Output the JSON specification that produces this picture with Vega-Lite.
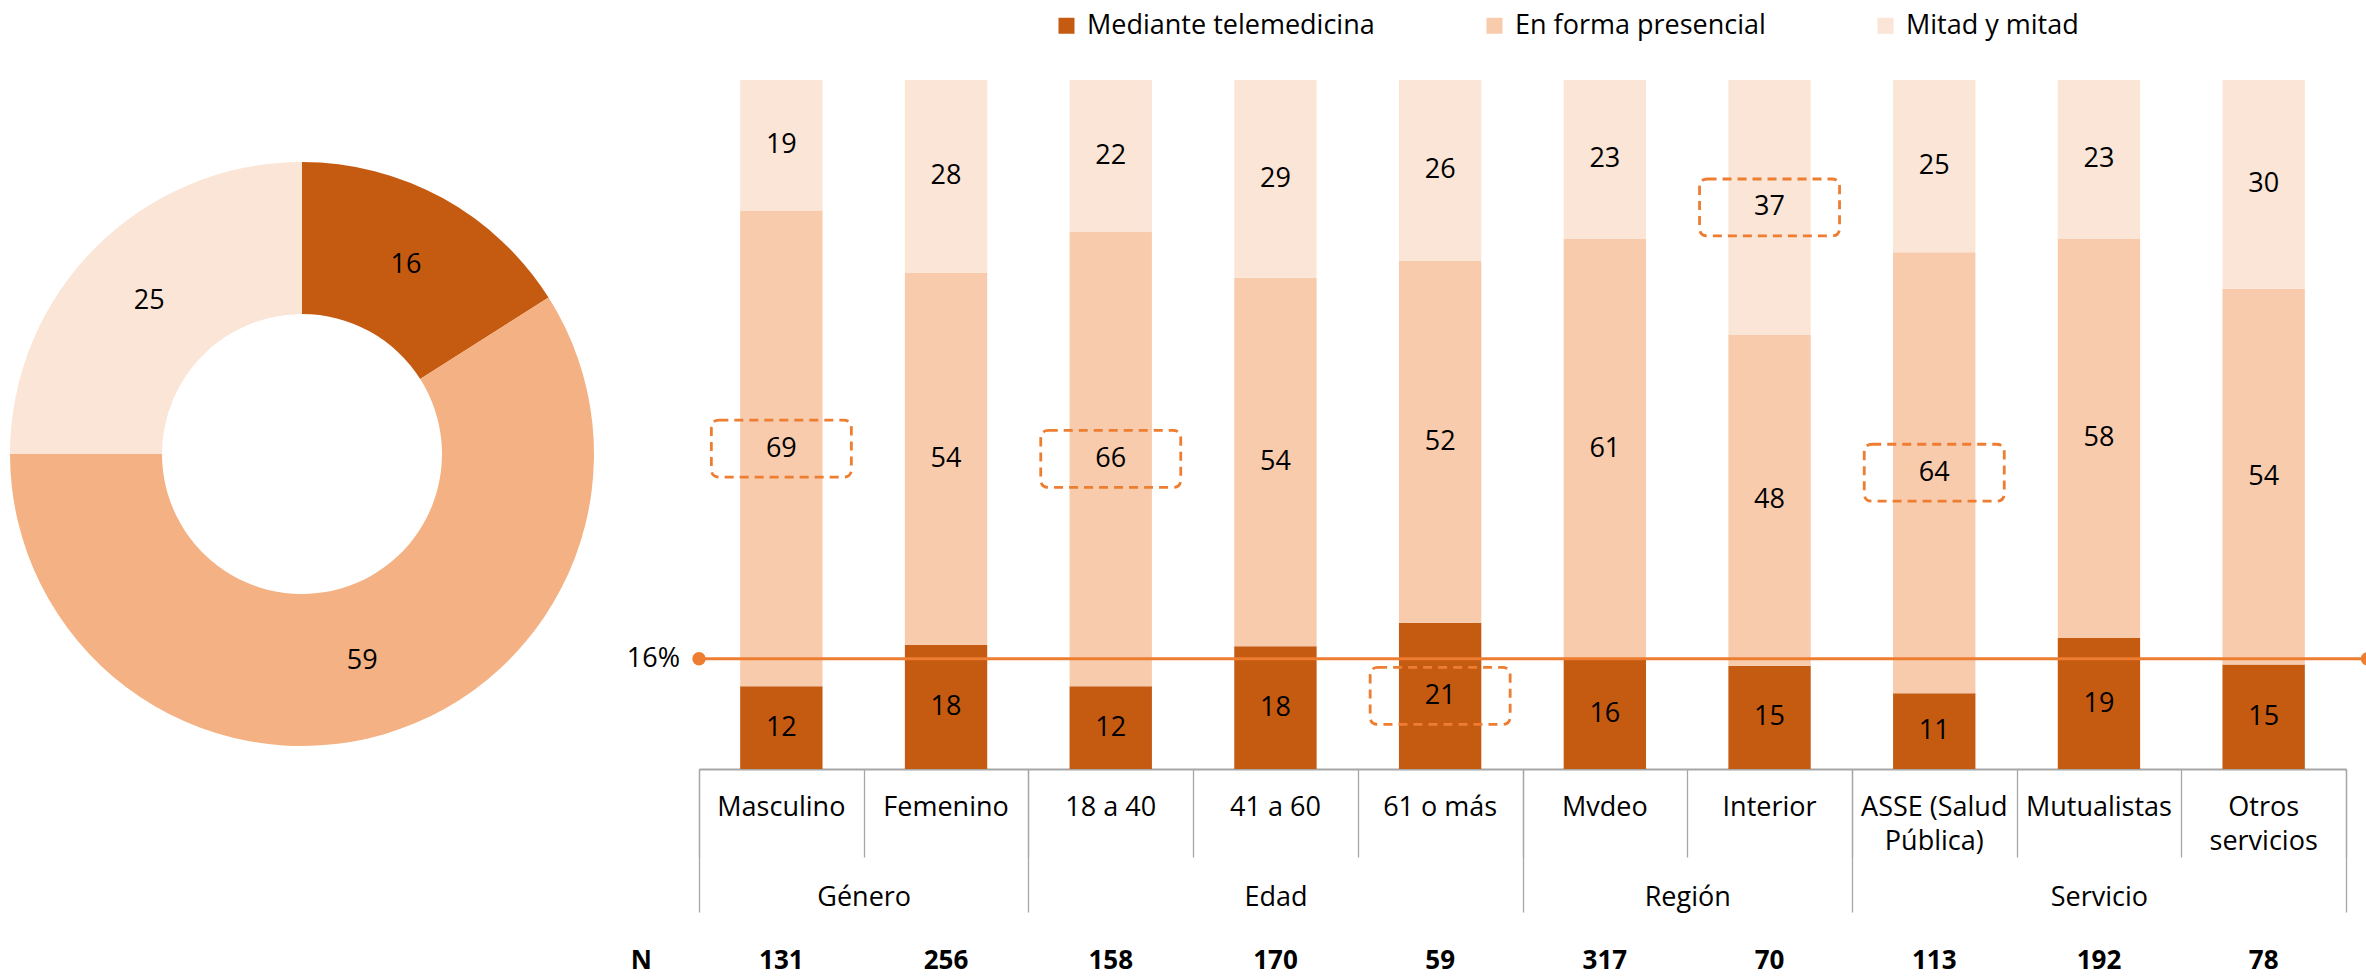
{
  "$schema": "https://vega.github.io/schema/vega-lite/v6.json",
  "background": "white",
  "padding": {"left": 0, "top": 12, "right": 0, "bottom": 6},
  "config": {
    "view": {"stroke": null},
    "font": "Open Sans",
    "text": {"font": "Open Sans"}
  },
  "datasets": {
    "total": [
      {"tipo": "Mediante telemedicina", "orden": 1, "porcentaje": 16},
      {"tipo": "En forma presencial", "orden": 2, "porcentaje": 59},
      {"tipo": "Mitad y mitad", "orden": 3, "porcentaje": 25}
    ],
    "promedio": [
      {"tipo": "Mediante telemedicina", "valor": 0.16, "rotulo": "N"}
    ],
    "barras": [
      {"categoria": "Masculino", "grupo": "Género", "tipo": "Mediante telemedicina", "orden": 1, "porcentaje": 12},
      {"categoria": "Masculino", "grupo": "Género", "tipo": "En forma presencial", "orden": 2, "porcentaje": 69},
      {"categoria": "Masculino", "grupo": "Género", "tipo": "Mitad y mitad", "orden": 3, "porcentaje": 19},
      {"categoria": "Femenino", "grupo": "Género", "tipo": "Mediante telemedicina", "orden": 1, "porcentaje": 18},
      {"categoria": "Femenino", "grupo": "Género", "tipo": "En forma presencial", "orden": 2, "porcentaje": 54},
      {"categoria": "Femenino", "grupo": "Género", "tipo": "Mitad y mitad", "orden": 3, "porcentaje": 28},
      {"categoria": "18 a 40", "grupo": "Edad", "tipo": "Mediante telemedicina", "orden": 1, "porcentaje": 12},
      {"categoria": "18 a 40", "grupo": "Edad", "tipo": "En forma presencial", "orden": 2, "porcentaje": 66},
      {"categoria": "18 a 40", "grupo": "Edad", "tipo": "Mitad y mitad", "orden": 3, "porcentaje": 22},
      {"categoria": "41 a 60", "grupo": "Edad", "tipo": "Mediante telemedicina", "orden": 1, "porcentaje": 18},
      {"categoria": "41 a 60", "grupo": "Edad", "tipo": "En forma presencial", "orden": 2, "porcentaje": 54},
      {"categoria": "41 a 60", "grupo": "Edad", "tipo": "Mitad y mitad", "orden": 3, "porcentaje": 29},
      {"categoria": "61 o más", "grupo": "Edad", "tipo": "Mediante telemedicina", "orden": 1, "porcentaje": 21},
      {"categoria": "61 o más", "grupo": "Edad", "tipo": "En forma presencial", "orden": 2, "porcentaje": 52},
      {"categoria": "61 o más", "grupo": "Edad", "tipo": "Mitad y mitad", "orden": 3, "porcentaje": 26},
      {"categoria": "Mvdeo", "grupo": "Región", "tipo": "Mediante telemedicina", "orden": 1, "porcentaje": 16},
      {"categoria": "Mvdeo", "grupo": "Región", "tipo": "En forma presencial", "orden": 2, "porcentaje": 61},
      {"categoria": "Mvdeo", "grupo": "Región", "tipo": "Mitad y mitad", "orden": 3, "porcentaje": 23},
      {"categoria": "Interior", "grupo": "Región", "tipo": "Mediante telemedicina", "orden": 1, "porcentaje": 15},
      {"categoria": "Interior", "grupo": "Región", "tipo": "En forma presencial", "orden": 2, "porcentaje": 48},
      {"categoria": "Interior", "grupo": "Región", "tipo": "Mitad y mitad", "orden": 3, "porcentaje": 37},
      {"categoria": "ASSE (Salud Pública)", "grupo": "Servicio", "tipo": "Mediante telemedicina", "orden": 1, "porcentaje": 11},
      {"categoria": "ASSE (Salud Pública)", "grupo": "Servicio", "tipo": "En forma presencial", "orden": 2, "porcentaje": 64},
      {"categoria": "ASSE (Salud Pública)", "grupo": "Servicio", "tipo": "Mitad y mitad", "orden": 3, "porcentaje": 25},
      {"categoria": "Mutualistas", "grupo": "Servicio", "tipo": "Mediante telemedicina", "orden": 1, "porcentaje": 19},
      {"categoria": "Mutualistas", "grupo": "Servicio", "tipo": "En forma presencial", "orden": 2, "porcentaje": 58},
      {"categoria": "Mutualistas", "grupo": "Servicio", "tipo": "Mitad y mitad", "orden": 3, "porcentaje": 23},
      {"categoria": "Otros servicios", "grupo": "Servicio", "tipo": "Mediante telemedicina", "orden": 1, "porcentaje": 15},
      {"categoria": "Otros servicios", "grupo": "Servicio", "tipo": "En forma presencial", "orden": 2, "porcentaje": 54},
      {"categoria": "Otros servicios", "grupo": "Servicio", "tipo": "Mitad y mitad", "orden": 3, "porcentaje": 30}
    ],
    "muestras": [
      {"categoria": "Masculino", "n": 131},
      {"categoria": "Femenino", "n": 256},
      {"categoria": "18 a 40", "n": 158},
      {"categoria": "41 a 60", "n": 170},
      {"categoria": "61 o más", "n": 59},
      {"categoria": "Mvdeo", "n": 317},
      {"categoria": "Interior", "n": 70},
      {"categoria": "ASSE (Salud Pública)", "n": 113},
      {"categoria": "Mutualistas", "n": 192},
      {"categoria": "Otros servicios", "n": 78}
    ]
  },
  "bounds": "flush",
  "spacing": 95,
  "resolve": {"scale": {"color": "independent"}, "legend": {"color": "independent"}},
  "hconcat": [
    {
      "width": 604,
      "height": 748,
      "data": {"name": "total"},
      "encoding": {
        "theta": {"field": "porcentaje", "type": "quantitative", "stack": true},
        "order": {"field": "orden", "type": "quantitative"}
      },
      "layer": [
        {
          "mark": {"type": "arc", "innerRadius": 140, "outerRadius": 292},
          "encoding": {
            "color": {
              "field": "tipo",
              "type": "nominal",
              "scale": {"domain": ["Mediante telemedicina", "En forma presencial", "Mitad y mitad"], "range": ["#C55A11", "#F4B183", "#FBE5D6"]},
              "legend": null
            }
          }
        },
        {
          "mark": {"type": "text", "radius": 216, "fontSize": 27, "color": "#000000"},
          "encoding": {
            "detail": {"field": "tipo", "type": "nominal"},
            "text": {"field": "porcentaje", "type": "quantitative"}
          }
        }
      ]
    },
    {
      "width": 1647,
      "height": 689,
      "resolve": {"scale": {"x": "independent"}, "axis": {"x": "independent"}},
      "layer": [
        {
          "data": {"name": "barras"},
          "encoding": {
            "x": {
              "field": "categoria",
              "type": "nominal",
              "scale": {
                "domain": ["Masculino", "Femenino", "18 a 40", "41 a 60", "61 o más", "Mvdeo", "Interior", "ASSE (Salud Pública)", "Mutualistas", "Otros servicios"],
                "paddingInner": 0.5,
                "paddingOuter": 0.25
              },
              "axis": {
                "orient": "bottom",
                "title": null,
                "domain": false,
                "ticks": false,
                "tickSize": 0,
                "grid": false,
                "labelAngle": 0,
                "labelPadding": 25,
                "labelFontSize": 27,
                "labelColor": "#000000",
                "labelBaseline": "top",
                "labelLineHeight": 34,
                "labelLimit": 400,
                "labelOverlap": false,
                "labelFlush": false,
                "labelExpr": "datum.label === 'ASSE (Salud Pública)' ? ['ASSE (Salud', 'Pública)'] : datum.label === 'Otros servicios' ? ['Otros', 'servicios'] : datum.label"
              }
            }
          },
          "layer": [
            {
              "mark": {"type": "bar"},
              "encoding": {
                "y": {"field": "porcentaje", "type": "quantitative", "stack": "normalize", "scale": {"domain": [0, 1], "nice": false}, "axis": null},
                "color": {
                  "field": "tipo",
                  "type": "nominal",
                  "scale": {"domain": ["Mediante telemedicina", "En forma presencial", "Mitad y mitad"], "range": ["#C55A11", "#F8CBAD", "#FBE5D6"]},
                  "legend": {
                    "orient": "none",
                    "legendX": 354,
                    "legendY": -68,
                    "direction": "horizontal",
                    "columns": 3,
                    "title": null,
                    "padding": 0,
                    "labelFontSize": 27,
                    "labelColor": "#000000",
                    "labelLimit": 400,
                    "labelOffset": 7,
                    "columnPadding": 106,
                    "symbolType": "square",
                    "symbolSize": 256,
                    "symbolStrokeWidth": 0,
                    "symbolOpacity": 1
                  }
                },
                "order": {"field": "orden", "type": "quantitative"}
              }
            },
            {
              "mark": {"type": "text", "fontSize": 27, "color": "#000000", "baseline": "middle"},
              "encoding": {
                "y": {"field": "porcentaje", "type": "quantitative", "stack": "normalize", "bandPosition": 0.5, "axis": null},
                "detail": {"field": "tipo", "type": "nominal"},
                "order": {"field": "orden", "type": "quantitative"},
                "text": {"field": "porcentaje", "type": "quantitative"}
              }
            },
            {
              "mark": {
                "type": "point",
                "shape": "M -0.886 -0.407 L 0.886 -0.407 Q 1 -0.407 1 -0.293 L 1 0.293 Q 1 0.407 0.886 0.407 L -0.886 0.407 Q -1 0.407 -1 0.293 L -1 -0.293 Q -1 -0.407 -0.886 -0.407 Z",
                "size": 19600,
                "filled": false,
                "color": "#ED7D31",
                "strokeWidth": 2.8,
                "strokeDash": [9, 6],
                "opacity": 1
              },
              "encoding": {
                "y": {"field": "porcentaje", "type": "quantitative", "stack": "normalize", "bandPosition": 0.5, "axis": null},
                "detail": {"field": "tipo", "type": "nominal"},
                "order": {"field": "orden", "type": "quantitative"},
                "strokeOpacity": {
                  "condition": {
                    "test": "(datum.categoria === 'Masculino' && datum.orden === 2) || (datum.categoria === '18 a 40' && datum.orden === 2) || (datum.categoria === '61 o más' && datum.orden === 1) || (datum.categoria === 'Interior' && datum.orden === 3) || (datum.categoria === 'ASSE (Salud Pública)' && datum.orden === 2)",
                    "value": 1
                  },
                  "value": 0
                }
              }
            },
            {
              "data": {"name": "muestras"},
              "mark": {"type": "text", "fontSize": 26, "fontWeight": "bold", "color": "#000000", "baseline": "alphabetic"},
              "encoding": {
                "y": {"datum": -0.29, "type": "quantitative", "axis": null},
                "text": {"field": "n", "type": "quantitative"}
              }
            }
          ]
        },
        {
          "data": {"name": "promedio"},
          "resolve": {"axis": {"x": "independent"}},
          "layer": [
            {
              "mark": {"type": "rule", "color": "#ED7D31", "strokeWidth": 3},
              "encoding": {
                "x": {
                  "datum": 0,
                  "type": "quantitative",
                  "scale": {"domain": [0, 10], "nice": false, "zero": false},
                  "axis": {
                    "orient": "bottom",
                    "title": null,
                    "values": [0, 1, 2, 3, 4, 5, 6, 7, 8, 9, 10],
                    "grid": false,
                    "labels": false,
                    "domain": true,
                    "domainColor": "#A6A6A6",
                    "domainWidth": 2,
                    "ticks": true,
                    "tickColor": "#A6A6A6",
                    "tickWidth": 1.3,
                    "tickSize": 88
                  }
                },
                "x2": {"datum": 10.13},
                "y": {"field": "valor", "type": "quantitative", "axis": null}
              }
            },
            {
              "mark": {"type": "circle", "size": 180, "color": "#ED7D31", "opacity": 1},
              "encoding": {
                "x": {
                  "datum": 0,
                  "type": "quantitative",
                  "axis": {
                    "orient": "bottom",
                    "title": null,
                    "values": [0, 2, 5, 7, 10],
                    "grid": false,
                    "labels": false,
                    "domain": false,
                    "ticks": true,
                    "tickColor": "#A6A6A6",
                    "tickWidth": 1.3,
                    "tickSize": 143
                  }
                },
                "y": {"field": "valor", "type": "quantitative", "axis": null}
              }
            },
            {
              "mark": {"type": "circle", "size": 180, "color": "#ED7D31", "opacity": 1},
              "encoding": {
                "x": {
                  "datum": 10.13,
                  "type": "quantitative",
                  "axis": {
                    "orient": "bottom",
                    "title": null,
                    "values": [1, 3.5, 6, 8.5],
                    "grid": false,
                    "domain": false,
                    "ticks": false,
                    "tickSize": 0,
                    "labels": true,
                    "labelPadding": 115,
                    "labelFontSize": 27,
                    "labelColor": "#000000",
                    "labelBaseline": "top",
                    "labelFlush": false,
                    "labelOverlap": false,
                    "labelExpr": "datum.value === 1 ? 'Género' : datum.value === 3.5 ? 'Edad' : datum.value === 6 ? 'Región' : 'Servicio'"
                  }
                },
                "y": {"field": "valor", "type": "quantitative", "axis": null}
              }
            },
            {
              "mark": {"type": "text", "fontSize": 27, "fontWeight": "normal", "color": "#000000", "align": "right", "baseline": "middle", "dx": -19},
              "encoding": {
                "x": {"datum": 0, "type": "quantitative", "axis": null},
                "y": {"field": "valor", "type": "quantitative", "axis": null},
                "text": {"field": "valor", "type": "quantitative", "format": ".0%"}
              }
            },
            {
              "mark": {"type": "text", "fontSize": 26, "fontWeight": "bold", "color": "#000000", "baseline": "alphabetic"},
              "encoding": {
                "x": {"datum": -0.35, "type": "quantitative", "axis": null},
                "y": {"datum": -0.29, "type": "quantitative", "axis": null},
                "text": {"field": "rotulo", "type": "nominal"}
              }
            }
          ]
        }
      ]
    }
  ]
}
